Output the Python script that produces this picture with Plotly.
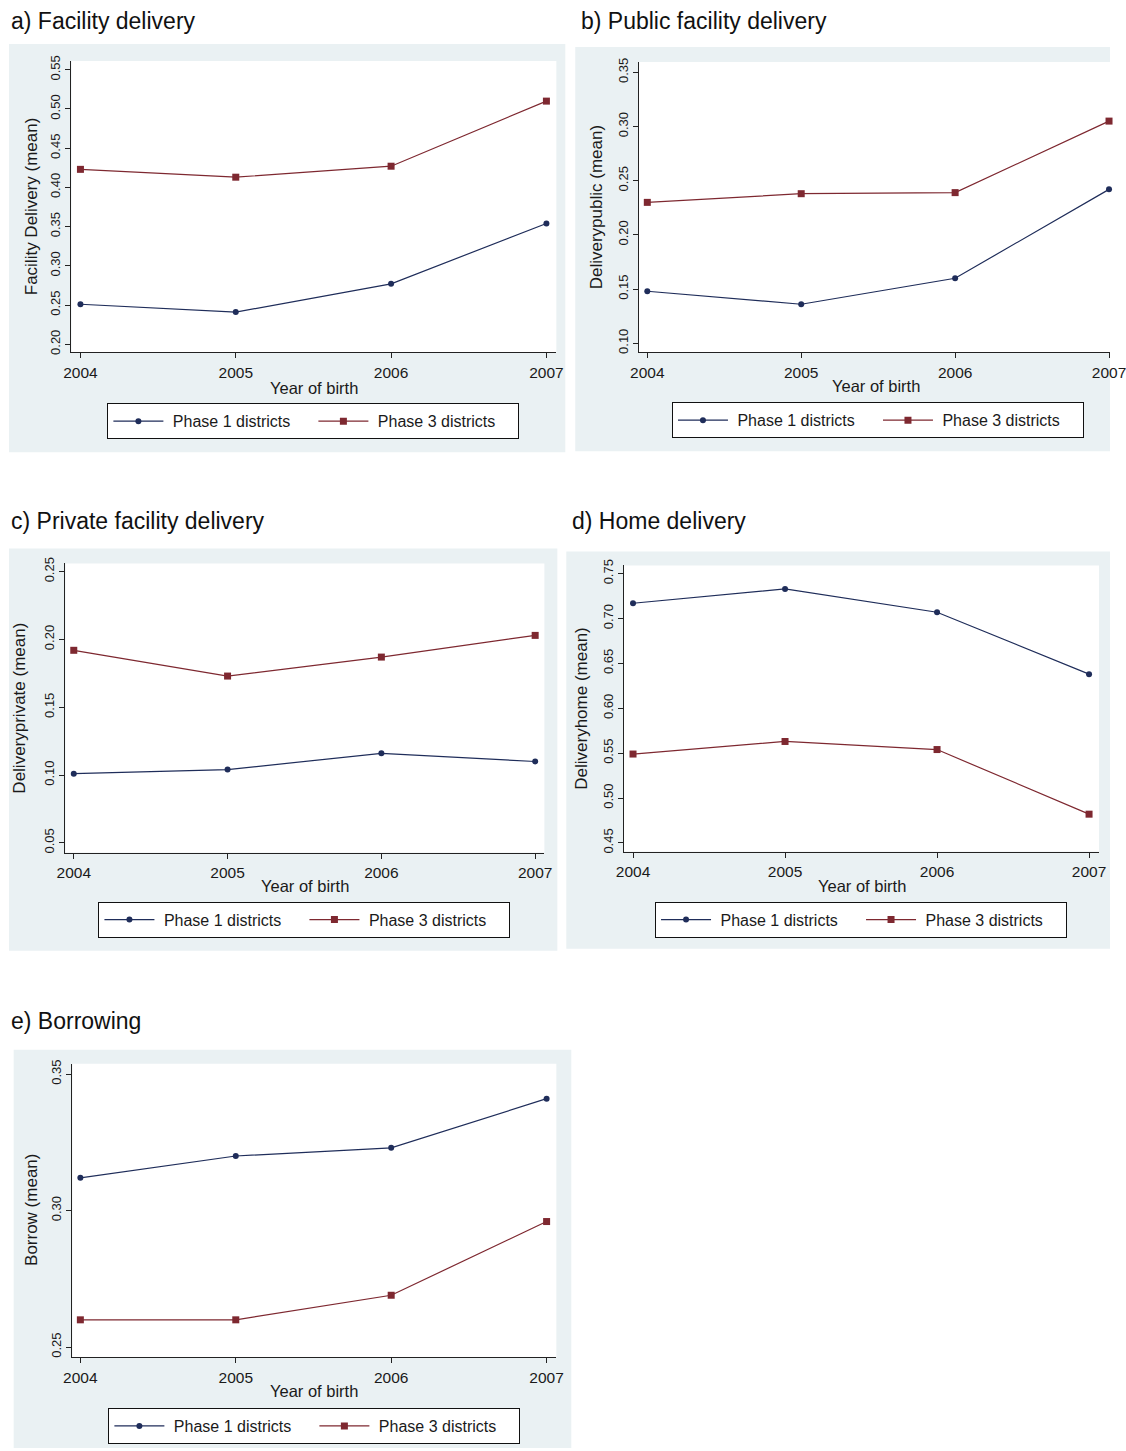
import plotly.graph_objects as go

W, H = 1126, 1451
# The photographed page lands inset and slightly shrunk inside the picture;
# positions below are given in picture pixels and mapped back to page pixels.
SX, OX = 0.982, 8.3
SY, OY = 0.9931, 7.0

years = [2004, 2005, 2006, 2007]
year_labels = ["2004", "2005", "2006", "2007"]

fac_p1 = [0.251, 0.241, 0.277, 0.354]
fac_p3 = [0.423, 0.413, 0.427, 0.510]
pub_p1 = [0.148, 0.136, 0.160, 0.242]
pub_p3 = [0.230, 0.238, 0.239, 0.305]
priv_p1 = [0.101, 0.104, 0.116, 0.110]
priv_p3 = [0.192, 0.173, 0.187, 0.203]
home_p1 = [0.717, 0.733, 0.707, 0.638]
home_p3 = [0.549, 0.563, 0.554, 0.482]
bor_p1 = [0.312, 0.320, 0.323, 0.341]
bor_p3 = [0.260, 0.260, 0.269, 0.296]

ticks_a = [0.20, 0.25, 0.30, 0.35, 0.40, 0.45, 0.50, 0.55]
ticks_b = [0.10, 0.15, 0.20, 0.25, 0.30, 0.35]
ticks_c = [0.05, 0.10, 0.15, 0.20, 0.25]
ticks_d = [0.45, 0.50, 0.55, 0.60, 0.65, 0.70, 0.75]
ticks_e = [0.25, 0.30, 0.35]

series_names = ["\u00a0Phase 1 districts", "\u00a0Phase 3 districts"]
panel_titles = ["a) Facility delivery", "b) Public facility delivery",
                "c) Private facility delivery", "d) Home delivery", "e) Borrowing"]
y_titles = ["Facility Delivery (mean)", "Deliverypublic (mean)",
            "Deliveryprivate (mean)", "Deliveryhome (mean)", "Borrow (mean)"]
x_title = "Year of birth"

FONT = "Liberation Sans, Arial, sans-serif"
C1 = "#1f2d5a"
C3 = "#7e2830"
BG = "#eaf1f3"

panels = [
    dict(p1=fac_p1, p3=fac_p3, ticks=ticks_a,
         plot=(71, 558, 62, 353), bg=(7, 567, 45, 453),
         xr=[2003.942, 2007.064], yr=[0.1898, 0.5611],
         title=(8, 22), ytitle=(31,), xtitle_y=389, leg=(314, 404)),
    dict(p1=pub_p1, p3=pub_p3, ticks=ticks_b,
         plot=(641, 1118, 63, 353), bg=(577, 1140, 48, 452),
         xr=[2003.946, 2007.032], yr=[0.0917, 0.3595],
         title=(581, 22), ytitle=(598,), xtitle_y=387, leg=(881, 403)),
    dict(p1=priv_p1, p3=priv_p3, ticks=ticks_c,
         plot=(65, 546, 564, 853), bg=(7, 559, 549, 951),
         xr=[2003.946, 2007.060], yr=[0.0428, 0.2561],
         title=(4, 522), ytitle=(19,), xtitle_y=886, leg=(305, 902)),
    dict(p1=home_p1, p3=home_p3, ticks=ticks_d,
         plot=(626, 1103, 566, 852), bg=(568, 1117, 552, 949),
         xr=[2003.941, 2007.0655], yr=[0.4403, 0.7592],
         title=(572, 522), ytitle=(583,), xtitle_y=886, leg=(864, 902)),
    dict(p1=bor_p1, p3=bor_p3, ticks=ticks_e,
         plot=(72, 558, 1064, 1357), bg=(13, 573, 1050, 1470),
         xr=[2003.949, 2007.0627], yr=[0.2464, 0.3538],
         title=(4, 1021), ytitle=(31,), xtitle_y=1391, leg=(315, 1408)),
]

def px(x):
    return min(1.0, max(0.0, ((x - OX) / SX) / W))

def py(y):
    return min(1.0, max(0.0, 1 - ((y - OY) / SY) / H))

fig = go.Figure()
shapes = []
annotations = []
layout_axes = {}

for i, p in enumerate(panels):
    n = i + 1
    sfx = "" if n == 1 else str(n)
    xa, ya = "x" + sfx, "y" + sfx
    leg = "legend" + sfx
    l, r, t, b = p["plot"]
    bl, br, bt, bb = p["bg"]
    # keep the year scale consistent when a domain edge is clamped at the page edge
    xr = list(p["xr"])
    if px(r) >= 1.0:
        r_eff = OX + SX * W
        ppy = (r - l) / (xr[1] - xr[0])
        xr[1] = xr[1] - (r - r_eff) / ppy
        r = r_eff

    fig.add_trace(go.Scatter(
        x=years, y=p["p1"], name=series_names[0], mode="lines+markers",
        line=dict(color=C1, width=1.2), marker=dict(color=C1, size=6, symbol="circle"),
        xaxis=xa, yaxis=ya, legend=leg, cliponaxis=False))
    fig.add_trace(go.Scatter(
        x=years, y=p["p3"], name=series_names[1], mode="lines+markers",
        line=dict(color=C3, width=1.2), marker=dict(color=C3, size=7, symbol="square"),
        xaxis=xa, yaxis=ya, legend=leg, cliponaxis=False))

    layout_axes["xaxis" + sfx] = dict(
        domain=[px(l), px(r)], range=xr, anchor=ya,
        tickmode="array", tickvals=years, ticktext=year_labels,
        showline=True, linecolor="#222", linewidth=1, ticks="outside",
        ticklen=5, tickcolor="#222", showgrid=False, zeroline=False,
        tickfont=dict(family=FONT, size=15.5, color="#1a1a1a"), ticklabelstandoff=1,
        ticklabeloverflow="allow", fixedrange=True)
    layout_axes["yaxis" + sfx] = dict(
        domain=[py(b), py(t)], range=p["yr"], anchor=xa,
        tickmode="array", tickvals=p["ticks"], ticktext=[f"{v:.2f}" for v in p["ticks"]],
        tickangle=-90, showline=True, linecolor="#222", linewidth=1, ticks="outside",
        ticklen=5, tickcolor="#222", showgrid=False, zeroline=False,
        tickfont=dict(family=FONT, size=13, color="#1a1a1a"), fixedrange=True)

    layout_axes[leg] = dict(
        orientation="h", xanchor="center", yanchor="top",
        x=px(p["leg"][0]), y=py(p["leg"][1]),
        bordercolor="#111", borderwidth=1, bgcolor="white",
        font=dict(family=FONT, size=16, color="#1a1a1a"),
        itemwidth=50, entrywidth=140, entrywidthmode="pixels",
        itemclick=False, itemdoubleclick=False)

    shapes.append(dict(type="rect", xref="paper", yref="paper",
                       x0=px(bl), x1=px(br), y0=py(bb), y1=py(bt),
                       fillcolor=BG, line=dict(width=0), layer="below"))

    annotations.append(dict(text=panel_titles[i], xref="paper", yref="paper",
                            x=px(p["title"][0]), y=py(p["title"][1]),
                            xanchor="left", yanchor="middle", showarrow=False,
                            font=dict(family=FONT, size=23, color="#111")))
    annotations.append(dict(text=y_titles[i], xref="paper", yref="paper",
                            x=px(p["ytitle"][0]), y=py((t + b) / 2), textangle=-90,
                            xanchor="center", yanchor="middle", showarrow=False,
                            font=dict(family=FONT, size=17, color="#1a1a1a")))
    annotations.append(dict(text=x_title, xref="paper", yref="paper",
                            x=px((p["plot"][0] + p["plot"][1]) / 2), y=py(p["xtitle_y"]),
                            xanchor="center", yanchor="middle", showarrow=False,
                            font=dict(family=FONT, size=16.5, color="#1a1a1a")))

    shapes_white = dict(type="rect", xref="paper", yref="paper",
                        x0=px(l), x1=px(r), y0=py(b), y1=py(t),
                        fillcolor="white", line=dict(width=0), layer="below")
    p["white"] = shapes_white

for p in panels:
    shapes.append(p["white"])

fig.update_layout(
    width=W, height=H, margin=dict(l=0, r=0, t=0, b=0),
    paper_bgcolor="white", plot_bgcolor="rgba(0,0,0,0)",
    showlegend=True, shapes=shapes, annotations=annotations,
    font=dict(family=FONT), **layout_axes)

fig.write_html("out.html", config={"displayModeBar": False},
               post_script="document.body.style.margin='0';document.body.style.padding='0';document.documentElement.style.overflow='hidden';")
